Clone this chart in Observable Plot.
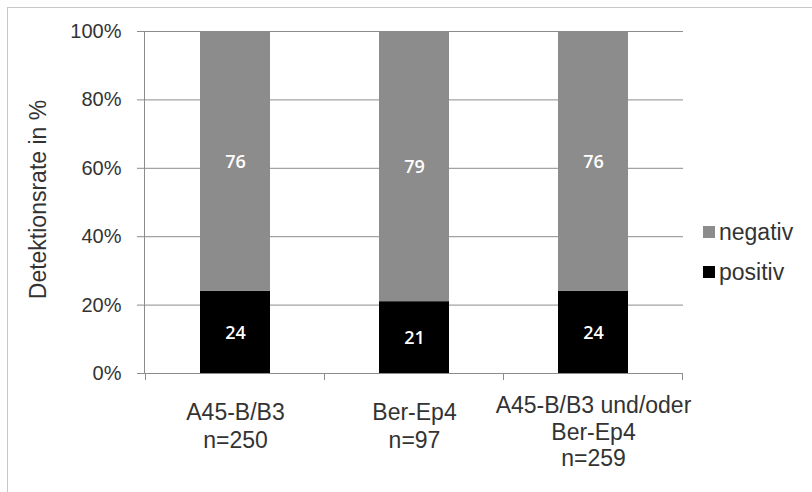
<!DOCTYPE html>
<html>
<head>
<meta charset="utf-8">
<script src="https://cdn.jsdelivr.net/npm/d3@7"></script>
<script src="https://cdn.jsdelivr.net/npm/@observablehq/plot@0.6"></script>
<style>
  body { margin: 0; background: #fff; }
  #wrap { position: relative; width: 812px; height: 492px; overflow: hidden; font-family: "Liberation Sans", Arial, sans-serif; }
  #border { position: absolute; left: 7px; top: 7px; width: 900px; height: 600px; border: 1px solid #c8c8c8; box-sizing: border-box; pointer-events: none; }
  #chart { position: absolute; left: 0; top: 0; }
  #legend { position: absolute; left: 703px; top: 212px; font-size: 23px; color: #333; }
  .row { display: flex; align-items: center; height: 40px; }
  .sw { width: 12px; height: 12px; margin-right: 4px; }
</style>
</head>
<body>
<div id="wrap">
  <div id="border"></div>
  <div id="chart"></div>
  <div id="legend"></div>
</div>
<script>
// ---- data ----
const categories = ["A45-B/B3", "Ber-Ep4", "A45-B/B3 und/oder Ber-Ep4"];
const categoryLabels = ["A45-B/B3\nn=250", "Ber-Ep4\nn=97", "A45-B/B3 und/oder\nBer-Ep4\nn=259"];
const positiv = [24, 21, 24];
const negativ = [76, 79, 76];
const seriesNames = ["positiv", "negativ"];
const seriesColors = ["#000000", "#8c8c8c"];
const yTicks = [0, 0.2, 0.4, 0.6, 0.8, 1];
const yTitle = "Detektionsrate in %";

// long table built from the arrays (positiv first -> bottom of stack)
const rows = [];
categories.forEach((c, i) => {
  rows.push({cat: c, series: "positiv", value: positiv[i]});
  rows.push({cat: c, series: "negativ", value: negativ[i]});
});
const labelRows = categories.map((c, i) => ({cat: c, label: categoryLabels[i]}));
const nLines = d => d.label.split("\n").length;

const axisGray = "#8c8c8c";
const textColor = "#333";

// custom axis lines: left vertical axis line + category separator ticks below baseline
function axisLines(index, scales, values, dimensions) {
  const x = scales.x, y = scales.y;
  const g = d3.create("svg:g").attr("stroke", axisGray).attr("fill", "none").attr("shape-rendering", "crispEdges");
  const left = dimensions.marginLeft;
  g.append("line").attr("x1", left).attr("x2", left).attr("y1", y(1)).attr("y2", y(0));
  const step = x(categories[1]) - x(categories[0]);
  const bw = typeof x.bandwidth === "function" ? x.bandwidth() : step * 0.39;
  const gap = step - bw;
  const bounds = categories.map(c => x(c) - gap / 2);
  bounds.push(x(categories[categories.length - 1]) + bw + gap / 2);
  for (const b of bounds) {
    g.append("line").attr("x1", b).attr("x2", b).attr("y1", y(0)).attr("y2", y(0) + 7);
  }
  return g.node();
}

const plot = Plot.plot({
  width: 812,
  height: 492,
  marginLeft: 144,
  marginRight: 129,
  marginTop: 31,
  marginBottom: 119,
  style: {fontFamily: "'Liberation Sans', Arial, sans-serif", background: "transparent", overflow: "visible"},
  x: {domain: categories, paddingInner: 0.61, paddingOuter: 0.305, axis: null},
  y: {domain: [0, 1], axis: null},
  color: {domain: seriesNames, range: seriesColors},
  marks: [
    Plot.gridY(yTicks.filter(t => t > 0), {stroke: axisGray, strokeOpacity: 1}),
    Plot.axisY(yTicks, {
      tickFormat: d3.format(".0%"),
      tickSize: 7,
      tickPadding: 16,
      fontSize: 20,
      stroke: axisGray,
      fill: textColor,
      label: null
    }),
    Plot.barY(rows, {x: "cat", y: "value", fill: "series", offset: "normalize"}),
    Plot.ruleY([0], {stroke: axisGray}),
    axisLines,
    Plot.text(rows, Plot.stackY({
      x: "cat", y: "value", offset: "normalize",
      text: "value", fill: "white",
      fontSize: 18, fontWeight: 600,
      fontFamily: "'Open Sans', sans-serif",
      dy: 1
    })),
    Plot.text(labelRows, {
      filter: d => nLines(d) < 3,
      x: "cat", text: "label", frameAnchor: "bottom", lineAnchor: "top",
      dy: 27, fontSize: 23, lineHeight: 1.22, fill: textColor
    }),
    Plot.text(labelRows, {
      filter: d => nLines(d) >= 3,
      x: "cat", text: "label", frameAnchor: "bottom", lineAnchor: "top",
      dy: 20, fontSize: 23, lineHeight: 1.17, fill: textColor
    }),
    Plot.text([yTitle], {
      frameAnchor: "left", textAnchor: "middle", dx: -106, dy: -3, rotate: -90,
      fontSize: 23, fill: textColor
    })
  ]
});
document.getElementById("chart").appendChild(plot);

// legend (top to bottom: negativ, positiv)
const legend = d3.select("#legend");
seriesNames.slice().reverse().forEach(name => {
  const row = legend.append("div").attr("class", "row");
  row.append("div").attr("class", "sw").style("background", seriesColors[seriesNames.indexOf(name)]);
  row.append("span").text(name);
});
</script>
</body>
</html>
